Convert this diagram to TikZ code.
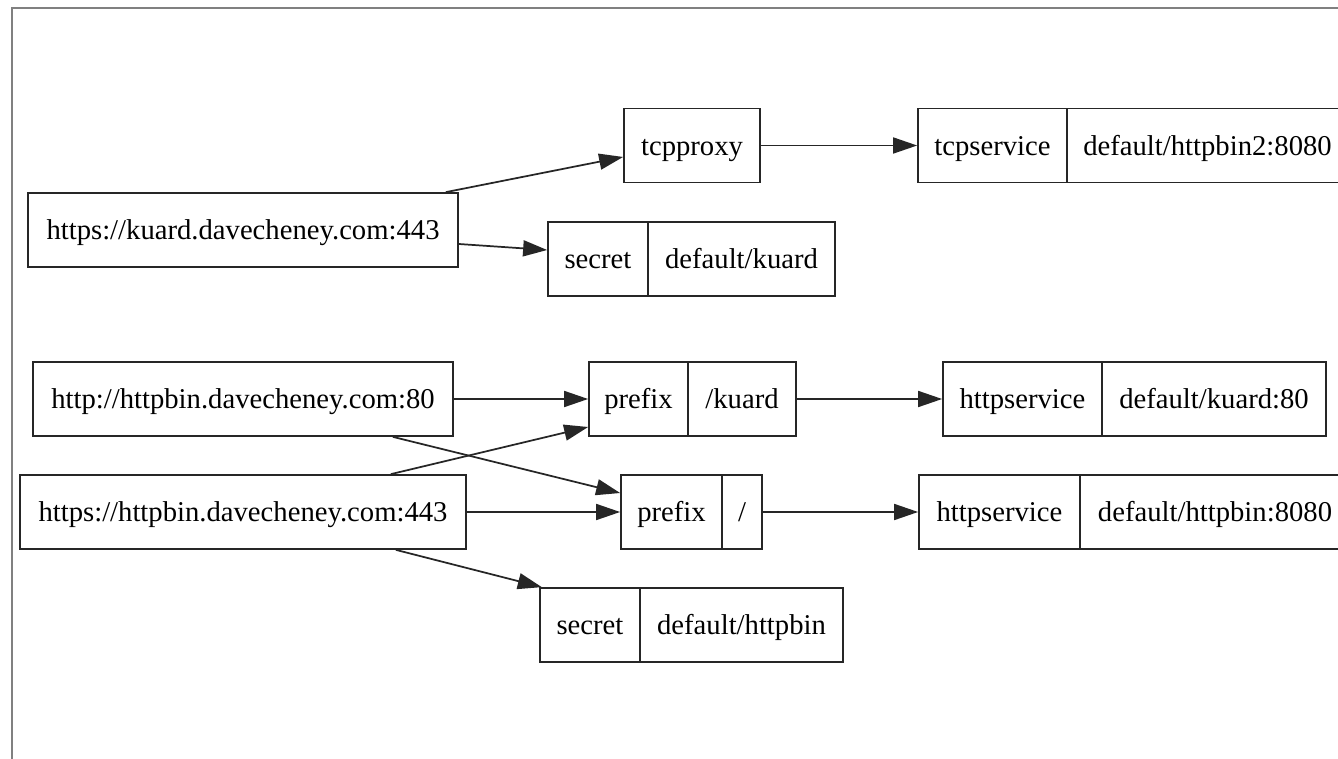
\documentclass[tikz,border=0pt]{standalone}
\usepackage{fontspec}
\setmainfont{Liberation Serif}
\usetikzlibrary{arrows.meta}

\begin{document}
\begin{tikzpicture}[x=0.75pt, y=-0.75pt,
    box/.style={draw=black!85, line width=1.3pt, rectangle, minimum height=55.5pt, inner sep=0pt,
                text height=15pt, text depth=0.5pt, font=\fontsize{21.5}{26}\selectfont},
    link/.style={draw=black!85, line width=1.3pt, -{Triangle[length=18pt, width=12pt]}}]
                            \useasboundingbox (0,0) rectangle (1338,759);
                            \clip (0,0) rectangle (1338,759);
                            \fill[white] (0,0) rectangle (1338,759);
                            \draw[gray, line width=1.5pt] (12,759) -- (12,8) -- (1338,8);

                            % listeners
                            \node (kuard)[box, minimum width=322.5pt] at (243, 230) {https://kuard.davecheney.com:443};
                            \node (bin80)[box, minimum width=315pt] at (243, 399) {http://httpbin.davecheney.com:80};
                            \node (bin443)[box, minimum width=334.5pt] at (243, 512) {https://httpbin.davecheney.com:443};

                            % kuard side
                            \node (tcpproxy)[box, minimum width=102pt] at (692, 145.5) {tcpproxy};
                            \node (tcpsvc)[box, minimum width=111.75pt] at (992.5, 145.5) {tcpservice};
                            \node (tcpsvcv)[box, minimum width=210.75pt] at (1207.5, 145.5) {default/httpbin2:8080};
                            \node (seck)[box, minimum width=75pt] at (598, 259) {secret};
                            \node (seckv)[box, minimum width=140.25pt] at (741.5, 259) {default/kuard};

                            % httpbin side
                            \node (prek)[box, minimum width=74.25pt] at (638.5, 399) {prefix};
                            \node (prekv)[box, minimum width=81pt] at (742, 399) {/kuard};
                            \node (svck)[box, minimum width=119.25pt] at (1022.5, 399) {httpservice};
                            \node (svckv)[box, minimum width=168pt] at (1214, 399) {default/kuard:80};
                            \node (preb)[box, minimum width=75.75pt] at (671.5, 512) {prefix};
                            \node (prebv)[box, minimum width=30pt] at (742, 512) {/};
                            \node (svcb)[box, minimum width=120.75pt] at (999.5, 512) {httpservice};
                            \node (svcbv)[box, minimum width=202.5pt] at (1215, 512) {default/httpbin:8080};
                            \node (secb)[box, minimum width=75pt] at (590, 625) {secret};
                            \node (secbv)[box, minimum width=152.25pt] at (741.5, 625) {default/httpbin};

                            \draw[link] ([xshift=-9.75pt]kuard.north east) -- ([yshift=-8.6pt]tcpproxy.west);
                            \draw[link] ([yshift=-10.5pt]kuard.east) -- ([yshift=6.75pt]seck.west);
                            \draw[link] (tcpproxy) -- (tcpsvc);
                            \draw[link] (bin80) -- (prek);
                            \draw[link] ([xshift=-45.75pt]bin80.south east) -- ([yshift=14.25pt]preb.west);
                            \draw[link] ([xshift=-57pt]bin443.north east) -- ([yshift=-21pt]prek.west);
                            \draw[link] (bin443) -- (preb);
                            \draw[link] ([xshift=-53.25pt]bin443.south east) -- ([xshift=2pt]secb.north west);
                            \draw[link] (prekv) -- (svck);
                            \draw[link] (prebv) -- (svcb);

                        \end{tikzpicture}
\end{document}
